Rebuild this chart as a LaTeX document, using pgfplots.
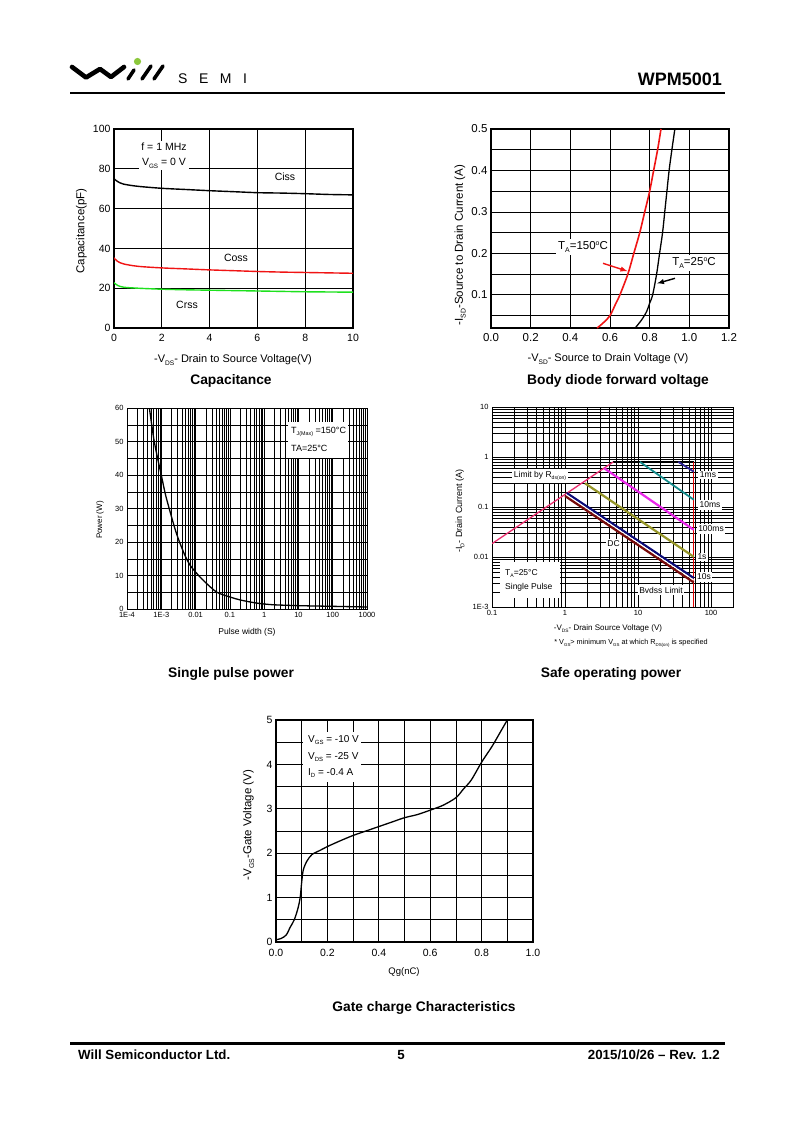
\documentclass[border=0pt]{standalone}
\usepackage{pgfplots}
\pgfplotsset{compat=1.18}
\usepackage{fontspec}
\setmainfont{Liberation Sans}
\usepackage{graphicx}
\newcommand\sub[1]{\raisebox{-0.45ex}{\scalebox{0.6}{#1}}}
\newcommand\sups[1]{\raisebox{0.8ex}{\scalebox{0.6}{#1}}}
\newcommand\fs[1]{\fontsize{#1}{#1}\selectfont}
\definecolor{crssgreen}{RGB}{30,225,30}
\definecolor{cossred}{RGB}{240,20,20}
\definecolor{limpink}{RGB}{235,45,110}
\definecolor{msmag}{RGB}{235,40,235}
\definecolor{msteal}{RGB}{20,140,140}
\definecolor{msnavy}{RGB}{45,35,150}
\definecolor{solive}{RGB}{150,150,40}
\definecolor{tsnavy}{RGB}{10,10,120}
\definecolor{dcred}{RGB}{120,10,10}
\definecolor{logogreen}{RGB}{140,200,60}
\pgfplotsset{
  ds/.style={scale only axis, anchor=south west,
    axis line style={line width=1.1pt},
    major tick length=0pt, minor tick length=0pt,
    major grid style={black,line width=0.7pt},
    minor grid style={black,line width=0.5pt},
    tick align=inside},
}
\begin{document}
\begin{tikzpicture}[x=1pt,y=1pt]
\useasboundingbox (0,0) rectangle (800,-1131);
\fill[white] (0,0) rectangle (800,-1131);

% ---------- header ----------
\draw[black,line width=4.6pt,line join=round,line cap=round] (72,-67) -- (86,-77.5) -- (100,-69) -- (111,-77) -- (124,-67);
\draw[black,line width=3.6pt,line cap=round] (128,-79) -- (134,-70);
\draw[black,line width=3.6pt,line cap=round] (142,-79) -- (151,-66);
\draw[black,line width=3.6pt,line cap=round] (154,-79) -- (163,-66);
\fill[logogreen] (137.5,-61.5) circle (3.6pt);
\node[anchor=base west,inner sep=0pt,font=\fs{14}] at (178,-84) {S\hspace{11.5pt}E\hspace{11.5pt}M\hspace{11.5pt}I};
\node[anchor=base east,inner sep=0pt,font=\fs{18}\bfseries] at (722,-86) {WPM5001};
\draw[line width=2.6pt] (70,-93) -- (725,-93);

% ---------- footer ----------
\draw[line width=3pt] (70,-1043) -- (725,-1043);
\node[anchor=base west,inner sep=0pt,font=\fs{13.3}\bfseries] at (78,-1059) {Will Semiconductor Ltd.};
\node[anchor=base,inner sep=0pt,font=\fs{13.3}\bfseries] at (401,-1059) {5};
\node[anchor=base east,inner sep=0pt,font=\fs{13.3}\bfseries] at (720,-1059) {2015/10/26 -- Rev. 1.2};

% ---------- Chart 1: Capacitance ----------
\begin{axis}[ds, at={(114pt,-328pt)}, width=239pt, height=199pt,
  xmin=0,xmax=10,ymin=0,ymax=100,
  xtick={0,2,4,6,8,10}, xticklabels={0,2,4,6,8,10},
  ytick={0,20,40,60,80,100}, yticklabels={0,20,40,60,80,100},
  xticklabel style={yshift=-3pt},
  grid=major, tick label style={font=\fs{10.5}}]
\addplot[black,line width=1.4pt,smooth] coordinates {(0,75)(0.15,73.6)(0.4,72.3)(1,71.2)(2,70.2)(3,69.6)(4,69)(5,68.5)(6,68)(7,67.8)(8,67.5)(9,67.1)(10,66.9)};
\addplot[cossred,line width=1.4pt,smooth] coordinates {(0,35.2)(0.15,33.5)(0.4,32.2)(1,31)(2,30.2)(3,29.7)(4,29.2)(5,28.8)(6,28.4)(7,28.1)(8,27.9)(9,27.7)(10,27.5)};
\addplot[crssgreen,line width=1.4pt,smooth] coordinates {(0,22.8)(0.15,21.4)(0.4,20.5)(1,20)(2,19.5)(3,19.2)(4,19)(5,18.8)(6,18.6)(7,18.4)(8,18.2)(9,18.1)(10,18)};
\end{axis}
\node[fill=white,inner sep=2pt,align=center,font=\fontsize{10.5}{15}\selectfont] at (164,-155.5) {f = 1 MHz\\V\sub{GS} = 0 V};
\node[fill=white,inner sep=2pt,font=\fs{10.5}] at (285,-177) {Ciss};
\node[fill=white,inner sep=2pt,font=\fs{10.5}] at (236,-258) {Coss};
\node[fill=white,inner sep=2pt,font=\fs{10.5}] at (187,-305) {Crss};
\node[rotate=90,font=\fs{11.5}] at (81.5,-231) {Capacitance(pF)};
\node[font=\fs{11}] at (233,-360) {-V\sub{DS}- Drain to Source Voltage(V)};
\node[font=\fs{13.8}\bfseries] at (231,-380.5) {Capacitance};

% ---------- Chart 2: Body diode ----------
\begin{axis}[ds, at={(491pt,-328pt)}, width=238pt, height=199pt,
  xmin=0,xmax=1.2,ymin=0.02,ymax=0.5,
  xtick={0,0.2,0.4,0.6,0.8,1.0,1.2}, xticklabels={0.0,0.2,0.4,0.6,0.8,1.0,1.2},
  ytick={0.1,0.2,0.3,0.4,0.5}, yticklabels={0.1,0.2,0.3,0.4,0.5},
  minor ytick={0.05,0.15,0.25,0.35,0.45},
  xticklabel style={yshift=-1.5pt},
  grid=both, minor grid style={black,line width=0.7pt},
  tick label style={font=\fs{11.5}}]
\addplot[cossred,line width=1.6pt,smooth] coordinates {(0.535,0.02)(0.565,0.032)(0.6,0.05)(0.63,0.08)(0.65,0.1)(0.69,0.15)(0.72,0.2)(0.75,0.25)(0.775,0.3)(0.8,0.35)(0.82,0.4)(0.84,0.45)(0.857,0.5)};
\addplot[black,line width=1.3pt,smooth] coordinates {(0.727,0.02)(0.76,0.04)(0.785,0.06)(0.8,0.08)(0.815,0.1)(0.835,0.15)(0.85,0.2)(0.865,0.25)(0.876,0.3)(0.887,0.35)(0.898,0.4)(0.912,0.45)(0.927,0.5)};
\end{axis}
\node[fill=white,inner sep=2pt,font=\fs{11.5}] at (583,-247) {T\sub{A}=150\sups{o}C};
\node[fill=white,inner sep=2pt,font=\fs{11.5}] at (694,-263) {T\sub{A}=25\sups{o}C};
\draw[cossred,line width=1.4pt,-latex] (603,-263.3) -- (627.5,-271.2);
\draw[black,line width=1.4pt,-latex] (675,-278.3) -- (657,-283.5);
\node[rotate=90,font=\fs{11.5}] at (460,-245) {-I\sub{SD}-Source to Drain Current (A)};
\node[font=\fs{11}] at (608,-359) {-V\sub{SD}- Source to Drain Voltage (V)};
\node[font=\fs{13.8}\bfseries] at (618,-380.5) {Body diode forward voltage};

% ---------- Chart 3: Single pulse power ----------
\begin{axis}[ds, at={(127pt,-609pt)}, width=240pt, height=201pt,
  xmode=log, xmin=1e-4, xmax=1000, ymin=0, ymax=60,
  axis line style={line width=0.9pt},
  xtick={1e-4,1e-3,1e-2,1e-1,1,10,100,1000},
  xticklabels={1E-4,1E-3,0.01,0.1,1,10,100,1000},
  minor xtick={2e-4,3e-4,4e-4,5e-4,6e-4,7e-4,8e-4,9e-4,
    2e-3,3e-3,4e-3,5e-3,6e-3,7e-3,8e-3,9e-3,
    0.02,0.03,0.04,0.05,0.06,0.07,0.08,0.09,
    0.2,0.3,0.4,0.5,0.6,0.7,0.8,0.9,
    2,3,4,5,6,7,8,9,20,30,40,50,60,70,80,90,200,300,400,500,600,700,800,900},
  ytick={0,10,20,30,40,50,60}, yticklabels={0,10,20,30,40,50,60},
  minor ytick={5,15,25,35,45,55},
  grid=both, major grid style={black,line width=0.5pt}, minor grid style={black,line width=0.4pt},
  tick label style={font=\fs{7.5}}]
\addplot[black,line width=1.3pt,smooth] coordinates {(4.5e-4,60)(6e-4,51)(8e-4,44.5)(1e-3,40)(1.3e-3,34.5)(1.7e-3,30)(2.5e-3,24)(3.4e-3,20)(5e-3,15.8)(7e-3,13)(1.23e-2,10)(2e-2,7.8)(4.2e-2,5)(0.1,3.6)(0.2,2.7)(0.5,1.9)(1,1.5)(2,1.25)(10,1.0)(100,0.8)(1000,0.6)};
\end{axis}
\node[fill=white,inner sep=0pt,minimum width=60pt,minimum height=36pt] at (318,-440) {};
\node[anchor=west,inner sep=0pt,font=\fs{9}] at (291,-432) {T\sub{J(Max)} =150°C};
\node[anchor=west,inner sep=0pt,font=\fs{9}] at (291,-448) {TA=25°C};
\node[rotate=90,font=\fs{8}] at (100,-520) {Power (W)};
\node[font=\fs{8.5}] at (247,-632) {Pulse width (S)};
\node[font=\fs{13.8}\bfseries] at (231,-673.5) {Single pulse power};

% ---------- Chart 4: SOA ----------
\begin{axis}[ds, at={(492pt,-607pt)}, width=241pt, height=200pt,
  xmode=log, ymode=log, xmin=0.1, xmax=200, ymin=1e-3, ymax=10,
  axis line style={line width=0.9pt},
  xtick={0.1,1,10,100}, xticklabels={0.1,1,10,100},
  ytick={1e-3,0.01,0.1,1,10}, yticklabels={1E-3,0.01,0.1,1,10},
  minor xtick={0.2,0.3,0.4,0.5,0.6,0.7,0.8,0.9,2,3,4,5,6,7,8,9,20,30,40,50,60,70,80,90,200},
  minor ytick={2e-3,3e-3,4e-3,5e-3,6e-3,7e-3,8e-3,9e-3,0.02,0.03,0.04,0.05,0.06,0.07,0.08,0.09,0.2,0.3,0.4,0.5,0.6,0.7,0.8,0.9,2,3,4,5,6,7,8,9},
  grid=both, major grid style={black,line width=0.5pt}, minor grid style={black,line width=0.4pt},
  tick label style={font=\fs{7.5}}]
\addplot[limpink,line width=1.3pt] coordinates {(0.1,0.0185)(4.6,0.8)};
\addplot[black,line width=1.3pt] coordinates {(4.6,0.8)(58,0.8)};
\addplot[red!90!black,line width=1.1pt] coordinates {(58,0.8)(58,1e-3)};
\addplot[msnavy,line width=1.8pt] coordinates {(35.6,0.8)(58,0.51)};
\addplot[msteal,line width=1.8pt] coordinates {(10.6,0.8)(58,0.14)};
\addplot[msmag,line width=2.2pt] coordinates {(3.45,0.594)(58,0.035)};
\addplot[solive,line width=2.2pt] coordinates {(1.88,0.298)(58,0.0101)};
\addplot[tsnavy,line width=2.2pt] coordinates {(1.06,0.19)(58,0.0038)};
\addplot[white,line width=1pt] coordinates {(1.03,0.178)(58,0.00345)};
\addplot[dcred,line width=2.2pt] coordinates {(1.0,0.166)(58,0.0031)};
\end{axis}
\node[fill=white,inner sep=1.5pt,font=\fs{8.5}] at (708,-475) {1ms};
\node[fill=white,inner sep=1.5pt,font=\fs{8.5}] at (710,-505) {10ms};
\node[fill=white,inner sep=1.5pt,font=\fs{8.5}] at (711,-529) {100ms};
\node[fill=white,inner sep=1.5pt,font=\fs{8.5}] at (702,-557) {1s};
\node[fill=white,inner sep=1.5pt,font=\fs{8.5}] at (704,-577) {10s};
\node[fill=white,inner sep=1.5pt,font=\fs{8.5}] at (613.5,-544) {DC};
\node[fill=white,inner sep=1.5pt,font=\fs{8.5}] at (661,-590) {Bvdss Limit};
\node[fill=white,inner sep=2pt,font=\fs{8.5}] at (540,-476) {Limit by R\sub{ds(on)}};
\node[fill=white,inner sep=0pt,minimum width=60pt,minimum height=36pt] at (530,-580) {};
\node[anchor=west,inner sep=0pt,font=\fs{8.5}] at (505,-573.5) {T\sub{A}=25°C};
\node[anchor=west,inner sep=0pt,font=\fs{8.5}] at (505,-587) {Single Pulse};
\node[rotate=90,font=\fs{9}] at (460,-511) {-I\sub{D}- Drain Current (A)};
\node[font=\fs{8}] at (608,-629) {-V\sub{DS}- Drain Source Voltage (V)};
\node[font=\fs{7.3}] at (631,-643.5) {* V\sub{GS}> minimum V\sub{GS} at which R\sub{DS(on)} is specified};
\node[font=\fs{13.8}\bfseries] at (611,-673.5) {Safe operating power};

% ---------- Chart 5: Gate charge ----------
\begin{axis}[ds, at={(276pt,-942pt)}, width=257pt, height=222pt,
  xmin=0,xmax=1,ymin=0,ymax=5,
  xtick={0,0.2,0.4,0.6,0.8,1}, xticklabels={0.0,0.2,0.4,0.6,0.8,1.0},
  minor xtick={0.1,0.3,0.5,0.7,0.9},
  ytick={0,1,2,3,4,5}, yticklabels={0,1,2,3,4,5},
  minor ytick={0.5,1.5,2.5,3.5,4.5},
  xticklabel style={yshift=-4pt},
  grid=both, minor grid style={black,line width=0.7pt},
  tick label style={font=\fs{10.5}}]
\addplot[black,line width=1.3pt,smooth,tension=0.5] coordinates {(0,0.05)(0.02,0.08)(0.04,0.16)(0.055,0.33)(0.071,0.5)(0.085,0.75)(0.094,1.0)(0.1,1.35)(0.106,1.62)(0.12,1.82)(0.14,1.97)(0.17,2.06)(0.2,2.15)(0.25,2.28)(0.3,2.4)(0.35,2.5)(0.4,2.6)(0.45,2.7)(0.5,2.8)(0.55,2.87)(0.6,2.97)(0.65,3.08)(0.7,3.25)(0.73,3.45)(0.76,3.65)(0.8,4.05)(0.84,4.4)(0.87,4.7)(0.9,5.0)};
\end{axis}
\node[fill=white,inner sep=0pt,minimum width=58pt,minimum height=50pt] at (332,-757) {};
\node[anchor=west,inner sep=0pt,font=\fs{10}] at (308,-740) {V\sub{GS} = -10 V};
\node[anchor=west,inner sep=0pt,font=\fs{10}] at (308,-757) {V\sub{DS} = -25 V};
\node[anchor=west,inner sep=0pt,font=\fs{10}] at (308,-773) {I\sub{D} = -0.4 A};
\node[rotate=90,font=\fs{11.5}] at (248.5,-825) {-V\sub{GS}-Gate Voltage (V)};
\node[font=\fs{9.5}] at (404,-972) {Qg(nC)};
\node[font=\fs{13.8}\bfseries] at (424,-1008) {Gate charge Characteristics};
\end{tikzpicture}
\end{document}
